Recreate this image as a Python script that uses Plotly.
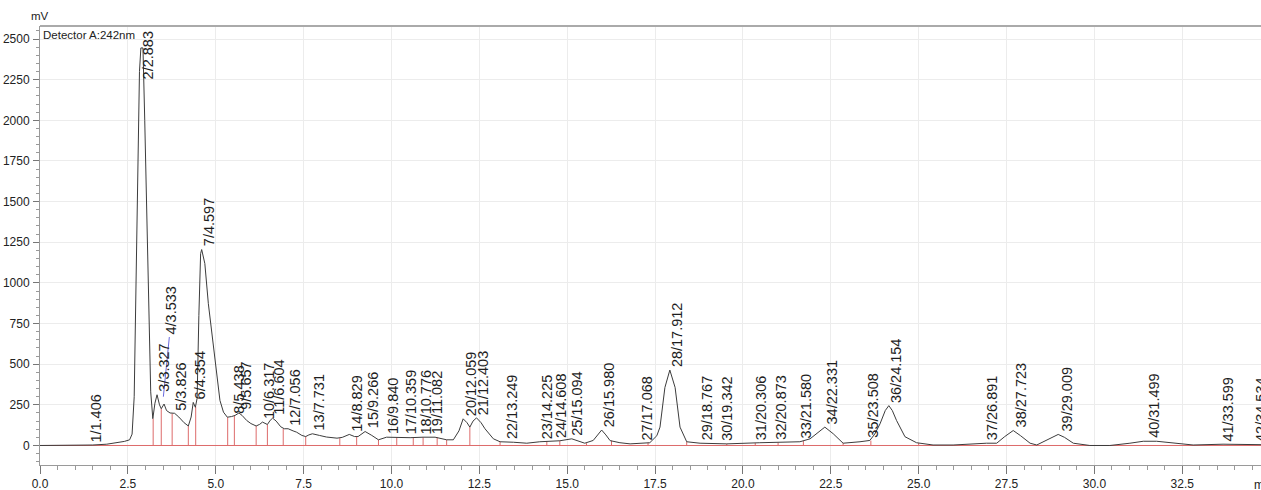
import plotly.graph_objects as go

# ---------------- data ----------------
time_min = [0.0, 1.0, 1.5, 1.9, 2.2, 2.4, 2.55, 2.62, 2.68, 2.73, 2.78, 2.83, 2.87, 2.93,
            2.98, 3.05, 3.10, 3.15, 3.21, 3.27, 3.33, 3.40, 3.45, 3.53, 3.60, 3.70, 3.83,
            3.95, 4.10, 4.22, 4.30, 4.36, 4.42, 4.47, 4.52, 4.57, 4.60, 4.69, 4.79, 4.93,
            5.03, 5.12, 5.22, 5.33, 5.45, 5.55, 5.66, 5.75, 5.88, 6.00, 6.15, 6.25, 6.33,
            6.47, 6.55, 6.62, 6.72, 6.85, 6.95, 7.06, 7.20, 7.30, 7.45, 7.56, 7.65, 7.75,
            7.95, 8.15, 8.45, 8.60, 8.80, 8.95, 9.05, 9.25, 9.44, 9.63, 9.86, 10.15, 10.53,
            10.90, 11.24, 11.57, 11.76, 11.92, 12.04, 12.15, 12.23, 12.32, 12.42, 12.55,
            12.66, 12.90, 13.09, 13.47, 13.85, 14.22, 14.79, 15.13, 15.30, 15.50, 15.74,
            15.87, 15.98, 16.10, 16.22, 16.50, 16.79, 17.35, 17.55, 17.64, 17.78, 17.92,
            18.07, 18.21, 18.40, 18.78, 19.54, 20.48, 21.62, 21.91, 22.10, 22.33, 22.57,
            22.85, 23.33, 23.61, 23.75, 23.90, 24.05, 24.15, 24.25, 24.37, 24.61, 24.94,
            25.41, 25.98, 26.93, 27.22, 27.45, 27.69, 27.90, 28.17, 28.36, 28.65, 28.97,
            29.15, 29.40, 29.87, 30.44, 31.01, 31.39, 31.77, 32.43, 32.81, 33.66, 34.40,
            34.75]
signal_mv = [0, 1, 3, 8, 18, 25, 35, 70, 300, 1000, 1800, 2300, 2445, 2445,
             2000, 1300, 700, 330, 165, 260, 312, 250, 226, 255, 215, 200, 198,
             175, 140, 120, 175, 265, 235, 290, 800, 1180, 1205, 1119, 872, 605,
             420, 277, 205, 174, 178, 185, 200, 185, 154, 135, 120, 130, 144,
             129, 155, 168, 150, 115, 103, 103, 90, 82, 62, 55, 65, 72,
             62, 52, 45, 50, 68, 55, 55, 86, 62, 35, 51, 48, 48,
             51, 51, 35, 35, 90, 164, 140, 113, 150, 170, 140,
             103, 41, 23, 20, 14, 23, 29, 41, 30, 14, 31,
             65, 95, 65, 30, 17, 10, 17, 60, 113, 357, 464,
             357, 113, 23, 14, 10, 17, 23, 41, 75, 113, 72,
             14, 23, 31, 70, 133, 215, 245, 215, 154, 54, 17,
             3, 3, 14, 14, 55, 92, 60, 14, 3, 35, 68,
             50, 14, 0, 0, 14, 26, 26, 14, 3, 8, 3,
             5]

peak_ids = list(range(1, 43))
peak_times = [1.406, 2.883, 3.327, 3.533, 3.826, 4.354, 4.597, 5.438, 5.657, 6.317,
              6.604, 7.056, 7.731, 8.829, 9.266, 9.840, 10.359, 10.776, 11.082, 12.059,
              12.403, 13.249, 14.225, 14.608, 15.094, 15.980, 17.068, 17.912, 18.767, 19.342,
              20.306, 20.873, 21.580, 22.331, 23.508, 24.154, 26.891, 27.723, 29.009, 31.499,
              33.599, 34.534]
peak_heights = [2, 2445, 312, 255, 198, 265, 1205, 178, 200, 144,
                168, 103, 72, 68, 86, 51, 48, 51, 51, 164,
                170, 22, 23, 27, 41, 95, 14, 464, 14, 12,
                15, 18, 25, 113, 28, 245, 12, 92, 68, 26,
                8, 5]

drop_times = [3.22, 3.45, 3.76, 4.22, 4.43, 5.34, 5.53, 6.15, 6.47, 6.92, 7.56, 8.53,
              9.01, 9.63, 10.15, 10.62, 10.90, 11.30, 11.57, 12.23, 13.09, 14.42, 14.79,
              15.55, 16.26, 17.30, 18.40, 19.54, 20.35, 21.00, 21.72, 22.85, 23.64, 25.00]
drop_heights = [165, 226, 196, 120, 240, 174, 182, 120, 129, 103, 55, 45,
                52, 35, 48, 48, 51, 50, 35, 113, 23, 25, 29,
                14, 30, 17, 23, 10, 15, 18, 28, 14, 30, 15]

x_tick_vals = [0.0, 2.5, 5.0, 7.5, 10.0, 12.5, 15.0, 17.5, 20.0, 22.5, 25.0, 27.5, 30.0, 32.5]
y_tick_vals = [0, 250, 500, 750, 1000, 1250, 1500, 1750, 2000, 2250, 2500]

# ---------------- layout / style ----------------
W, H = 1261, 490
ML, MT, MB = 40, 26, 25
X_RANGE = [0, 34.74]
Y_RANGE = [-120, 2580]
LABEL_FONT = dict(family="Liberation Sans, Arial, sans-serif", size=14.5, color="#1e1e1e")
TICK_FONT = dict(family="Liberation Sans, Arial, sans-serif", size=12, color="#222222")
SMALL_FONT = dict(family="Liberation Sans, Arial, sans-serif", size=11.5, color="#222222")
# label bases that the reference moved (clamped at the top / bumped up to avoid overlap)
label_base_override = {2: 2235, 4: 665}

fig = go.Figure()

# drop lines (red)
dx, dy = [], []
for t, h in zip(drop_times, drop_heights):
    dx += [t, t, None]
    dy += [0, h, None]
fig.add_trace(go.Scatter(x=dx, y=dy, mode="lines", line=dict(color="#dd6b6b", width=1),
                         hoverinfo="skip", showlegend=False))

# baseline (red)
fig.add_trace(go.Scatter(x=[X_RANGE[0], X_RANGE[1]], y=[0, 0], mode="lines",
                         line=dict(color="#dd6b6b", width=1), hoverinfo="skip", showlegend=False))

# blue marker line for the bumped label 4
fig.add_trace(go.Scatter(x=[3.51, 3.68], y=[300, 667], mode="lines",
                         line=dict(color="#6a6adf", width=1), hoverinfo="skip", showlegend=False))

# chromatogram
fig.add_trace(go.Scatter(x=time_min, y=signal_mv, mode="lines",
                         line=dict(color="#3c3c3c", width=1), showlegend=False))

annotations = []
for pid, t, h in zip(peak_ids, peak_times, peak_heights):
    base = label_base_override.get(pid, h)
    annotations.append(dict(
        x=t, y=base, xref="x", yref="y", text=f"{pid}/{t:.3f}",
        textangle=-90, showarrow=False, xanchor="left", yanchor="bottom",
        xshift=-2, yshift=2, font=LABEL_FONT, borderpad=0,
    ))

plot_w = W - ML
plot_h = H - MT - MB
annotations.append(dict(x=1 / plot_w, y=1 - 1 / plot_h, xref="paper", yref="paper",
                        text="Detector A:242nm", showarrow=False, xanchor="left", yanchor="top",
                        font=SMALL_FONT))
annotations.append(dict(x=0, y=1 + 2 / plot_h, xref="paper", yref="paper", text="mV",
                        showarrow=False, xanchor="center", yanchor="bottom", font=SMALL_FONT))
annotations.append(dict(x=(1252 - ML) / plot_w, y=-11 / plot_h, xref="paper", yref="paper",
                        text="min", showarrow=False, xanchor="left", yanchor="top", font=TICK_FONT))

fig.update_layout(
    width=W, height=H,
    margin=dict(l=ML, r=0, t=MT, b=MB, pad=0),
    paper_bgcolor="white", plot_bgcolor="white",
    annotations=annotations,
    xaxis=dict(range=X_RANGE, tickvals=x_tick_vals, ticktext=[f"{v:.1f}" for v in x_tick_vals],
               showgrid=True, gridcolor="#ececec", gridwidth=1, zeroline=False,
               showline=True, linecolor="#9a9a9a", linewidth=1, mirror=False,
               ticks="outside", ticklen=8, tickcolor="#777777", tickfont=TICK_FONT,
               automargin=False,
               minor=dict(dtick=0.5, tick0=0, ticks="outside", ticklen=4, tickcolor="#999999",
                          showgrid=False)),
    yaxis=dict(range=Y_RANGE, tickvals=y_tick_vals, showgrid=True, gridcolor="#ececec",
               gridwidth=1, zeroline=False, showline=True, linecolor="#9a9a9a", linewidth=1,
               ticks="outside", ticklen=6, tickcolor="#777777", tickfont=TICK_FONT,
               ticklabelstandoff=1, automargin=False,
               minor=dict(dtick=50, tick0=0, ticks="outside", ticklen=3, tickcolor="#999999",
                          showgrid=False)),
    shapes=[dict(type="line", xref="paper", yref="paper", x0=0, x1=1, y0=1, y1=1,
                 line=dict(color="#aaaaaa", width=2))],
)

# remove the page's default body margin so the figure sits at the window's top-left corner
fig.write_html("out.html", config={"displayModeBar": False},
               post_script="document.body.style.margin='0';")
